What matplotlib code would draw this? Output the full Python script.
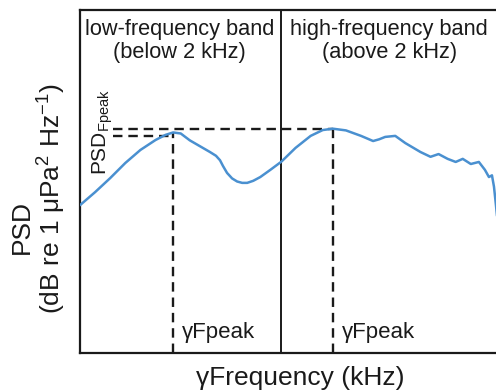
import numpy as np
import matplotlib
matplotlib.use("Agg")
import matplotlib.pyplot as plt

plt.rcParams["font.family"] = ["Liberation Sans", "DejaVu Sans"]
plt.rcParams["mathtext.default"] = "regular"

# PSD curve (frequency in kHz, PSD in arbitrary dB)
freq = [0.00, 0.15, 0.30, 0.45, 0.60, 0.75, 0.85, 0.925, 1.00, 1.09, 1.19,
        1.29, 1.35, 1.39, 1.42, 1.46, 1.51, 1.56, 1.61, 1.66, 1.72, 1.79,
        1.89, 2.00, 2.14, 2.29, 2.41, 2.51, 2.64, 2.79, 2.91, 2.97, 3.03,
        3.13, 3.23, 3.38, 3.48, 3.56, 3.65, 3.73, 3.80, 3.88, 3.96, 4.02,
        4.06, 4.09, 4.11, 4.13, 4.15]
psd = [43.1, 46.9, 51.0, 55.4, 59.2, 62.1, 63.6, 64.3, 64.0, 62.0, 60.3,
       58.6, 57.5, 56.2, 54.5, 52.5, 50.9, 50.0, 49.6, 49.6, 50.2, 51.3,
       53.4, 55.8, 59.8, 63.3, 65.0, 65.4, 64.9, 63.3, 61.8, 62.3, 63.0,
       63.3, 61.2, 58.6, 57.2, 58.0, 56.6, 55.7, 56.6, 55.1, 55.7, 53.4,
       51.3, 51.8, 48.5, 43.0, 37.0]

band_split = 2.0
peak_low = (0.925, 64.3)
peak_high = (2.51, 65.4)
dash_start = 0.33

fig = plt.figure(figsize=(4.96, 3.91), dpi=100)
ax = fig.add_axes([80 / 496, 38 / 391, 418 / 496, 343 / 391])

ax.plot(freq, psd, color="#4a90d0", lw=1.8, zorder=3,
        solid_joinstyle="round", solid_capstyle="round")

dark = "#1a1a1a"
dash = (0, (4, 2.5))
ax.axvline(band_split, color=dark, lw=1.4)
# peak markers
ax.plot([dash_start, peak_high[0]], [peak_high[1], peak_high[1]], color=dark, lw=1.7, ls=dash)
ax.plot([dash_start, peak_low[0]], [peak_low[1] - 0.9, peak_low[1] - 0.9], color=dark,
        lw=1.7, ls=dash)
ax.plot([peak_low[0], peak_low[0]], [0, peak_low[1]], color=dark, lw=1.7, ls=dash)
ax.plot([peak_high[0], peak_high[0]], [0, peak_high[1]], color=dark, lw=1.7, ls=dash)

ax.set_xlim(0, 4.15)
ax.set_ylim(0, 100)
ax.set_xticks([]); ax.set_yticks([])
for s in ("left", "bottom", "top"):
    ax.spines[s].set_linewidth(1.6)
    ax.spines[s].set_color(dark)
ax.spines["right"].set_visible(False)

ax.text(0.99, 97.5, "low-frequency band\n(below 2 kHz)", ha="center", va="top",
        fontsize=15.7, linespacing=1.15, color=dark)
ax.text(3.07, 97.5, "high-frequency band\n(above 2 kHz)", ha="center", va="top",
        fontsize=15.7, linespacing=1.15, color=dark)
ax.text(0.10, 52, "PSD$_{Fpeak}$", rotation=90, ha="left", va="bottom",
        fontsize=15, color=dark)
ax.text(peak_low[0] + 0.09, 3.0, "γFpeak", ha="left", va="bottom", fontsize=16, color=dark)
ax.text(peak_high[0] + 0.09, 3.0, "γFpeak", ha="left", va="bottom", fontsize=16, color=dark)

fig.text(22 / 496, 1 - 227 / 391, "PSD", rotation=90, ha="center", va="center",
         fontsize=19, color=dark)
fig.text(52 / 496, 1 - 199 / 391, "(dB re 1 μPa$^{2}$ Hz$^{-1}$)", rotation=90,
         ha="center", va="center", fontsize=19, color=dark)
fig.text(300 / 496, 1 - 378 / 391, "γFrequency (kHz)", ha="center", va="center",
         fontsize=19, color=dark)

fig.savefig("out.png", dpi=100)
